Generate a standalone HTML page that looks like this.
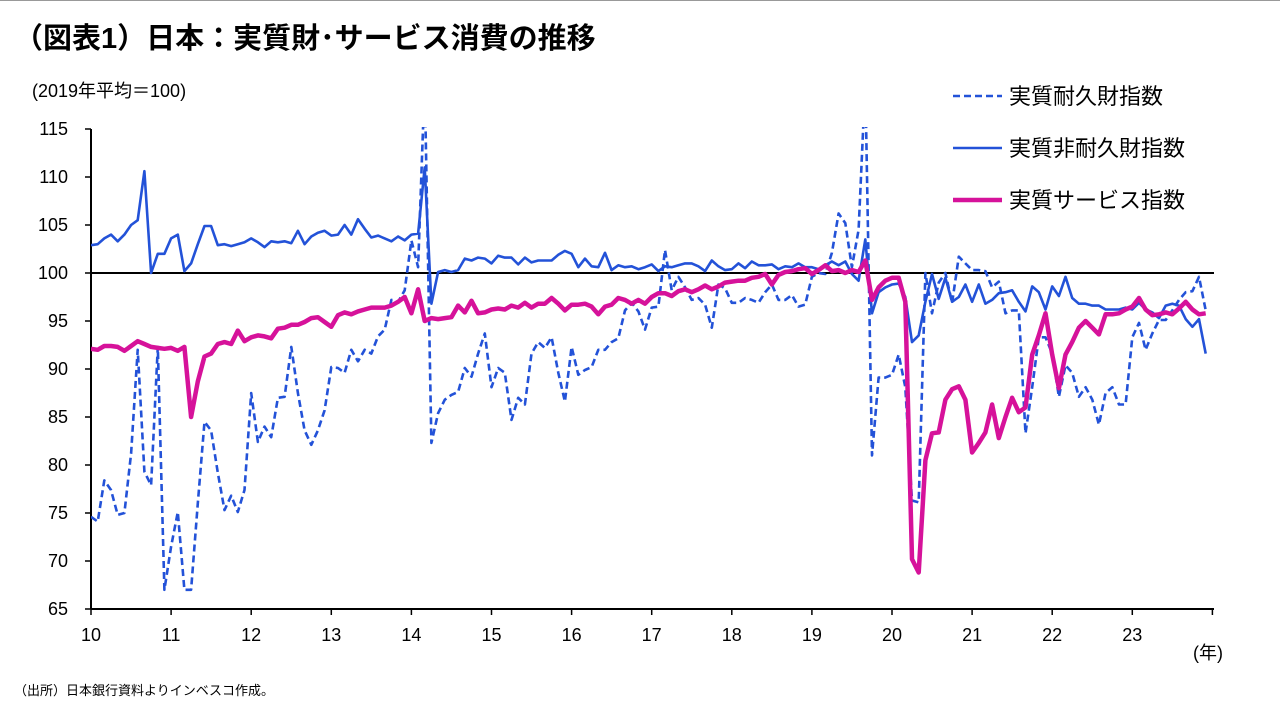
<!DOCTYPE html>
<html><head><meta charset="utf-8"><style>
body{margin:0;background:#fff;}
#wrap{position:relative;width:1280px;height:720px;overflow:hidden;font-family:"Liberation Sans","Noto Sans CJK JP",sans-serif;}
</style></head><body>
<div id="wrap">
<svg id="chart" width="1280" height="720" xmlns="http://www.w3.org/2000/svg">
<line x1="0" y1="0.5" x2="1280" y2="0.5" stroke="#999" stroke-width="1"/>
<text x="14" y="48" font-size="29" font-weight="bold" fill="#000" font-family="Liberation Sans, Noto Sans CJK JP, sans-serif">（図表1）日本：実質財･サービス消費の推移</text>
<text x="32" y="97" font-size="18" fill="#000" font-family="Liberation Sans, Noto Sans CJK JP, sans-serif">(2019年平均＝100)</text>
<text x="1193" y="659" font-size="18" fill="#000" font-family="Liberation Sans, Noto Sans CJK JP, sans-serif">(年)</text>
<text x="14" y="695" font-size="13" fill="#000" font-family="Liberation Sans, Noto Sans CJK JP, sans-serif">（出所）日本銀行資料よりインベスコ作成。</text>
<defs><clipPath id="plotclip"><rect x="91" y="127" width="1125" height="484"/></clipPath></defs>
<g id="axes"></g>
<g id="series" clip-path="url(#plotclip)"></g>
<g id="legend"></g>
</svg>
</div>
<script>
const yearLabels = ["10","11","12","13","14","15","16","17","18","19","20","21","22","23"];
const yTicks = [65,70,75,80,85,90,95,100,105,110,115];
const durable = [
74.6,74.1,78.4,77.4,74.8,75.0,81.2,92.0,79.3,77.9,92.3,67.0,
71.5,75.1,67.0,67.0,76.0,84.5,83.6,79.2,75.3,76.8,75.1,77.4,
87.5,82.4,84.0,82.9,87.0,87.1,92.3,87.5,83.6,82.1,83.6,85.7,
90.2,90.1,89.6,92.0,90.8,92.0,91.6,93.4,94.1,97.2,97.0,98.2,
103.4,100.6,120,82.3,85.4,86.8,87.3,87.6,90.1,89.2,91.6,93.7,
88.1,90.1,89.6,84.7,87.0,86.3,91.6,92.8,92.2,93.3,89.6,86.6,
92.3,89.4,89.9,90.2,92.0,92.0,92.8,93.2,96.1,96.9,96.0,94.1,
96.4,96.5,102.4,98.2,99.6,98.5,97.2,97.4,96.7,94.3,98.8,98.4,
96.9,96.9,97.4,97.2,96.9,98.0,98.8,97.2,97.2,97.7,96.5,96.7,
99.6,100.0,99.9,102.1,106.2,105.2,100.6,104.5,120,81.0,89.1,89.1,
89.4,91.5,88.1,76.3,76.1,100.0,95.8,99.0,100.0,96.9,101.7,101.0,
100.3,100.3,100.2,98.5,99.1,95.8,96.1,96.1,83.3,88.1,93.3,93.3,
91.6,87.1,90.4,89.6,87.1,88.1,86.8,84.2,87.5,88.1,86.3,86.3,
93.3,94.8,92.0,93.7,95.1,95.1,96.1,97.2,98.0,98.1,99.6,96.1];
const nondurable = [
102.9,103.0,103.6,104.0,103.3,104.0,105.0,105.5,110.6,100.0,102.0,102.0,
103.6,104.0,100.2,101.0,103.0,104.9,104.9,102.9,103.0,102.8,103.0,103.2,
103.6,103.2,102.7,103.3,103.2,103.3,103.1,104.4,103.0,103.8,104.2,104.4,
103.9,104.0,105.0,104.0,105.6,104.6,103.7,103.9,103.6,103.3,103.8,103.4,
104.0,104.1,111.0,96.8,100.1,100.3,100.1,100.3,101.5,101.3,101.6,101.5,
101.0,101.8,101.6,101.6,100.9,101.6,101.1,101.3,101.3,101.3,101.9,102.3,
102.0,100.6,101.5,100.7,100.6,102.1,100.3,100.8,100.6,100.7,100.4,100.6,
100.9,100.2,100.7,100.6,100.8,101.0,101.0,100.7,100.2,101.3,100.7,100.3,
100.4,101.0,100.5,101.2,100.8,100.8,100.9,100.4,100.7,100.6,101.0,100.6,
100.6,100.4,100.8,101.2,100.8,101.2,99.9,99.2,103.5,95.8,98.0,98.5,
98.8,98.9,97.5,92.8,93.5,97.0,99.9,97.3,99.5,97.0,97.5,98.8,
97.0,98.8,96.8,97.2,97.9,98.0,98.2,97.0,96.0,98.6,98.0,96.2,
98.6,97.6,99.6,97.4,96.8,96.8,96.6,96.6,96.2,96.2,96.2,96.4,
96.2,96.9,96.2,95.9,95.3,96.6,96.8,96.6,95.2,94.4,95.2,91.6];
const services = [
92.1,92.0,92.4,92.4,92.3,91.9,92.4,92.9,92.6,92.3,92.2,92.1,
92.2,91.9,92.3,85.0,88.7,91.3,91.6,92.6,92.8,92.6,94.0,92.9,
93.3,93.5,93.4,93.2,94.2,94.3,94.6,94.6,94.9,95.3,95.4,94.9,
94.4,95.6,95.9,95.7,96.0,96.2,96.4,96.4,96.4,96.6,97.0,97.5,
95.8,98.3,95.0,95.3,95.2,95.3,95.4,96.6,95.9,97.1,95.8,95.9,
96.2,96.3,96.2,96.6,96.4,96.9,96.4,96.8,96.8,97.4,96.8,96.1,
96.7,96.7,96.8,96.5,95.7,96.5,96.7,97.4,97.2,96.8,97.2,96.8,
97.5,97.9,97.9,97.6,98.1,98.3,98.0,98.3,98.7,98.3,98.6,99.0,
99.1,99.2,99.2,99.5,99.6,99.9,98.8,99.8,100.1,100.2,100.4,100.5,
99.9,100.3,100.8,100.2,100.3,100.0,100.3,100.1,101.3,97.2,98.5,99.2,
99.5,99.5,97.0,70.2,68.8,80.5,83.3,83.4,86.8,87.9,88.2,86.8,
81.3,82.3,83.4,86.3,82.8,85.0,87.0,85.5,86.0,91.5,93.5,95.8,
91.5,88.0,91.5,92.8,94.3,95.0,94.3,93.6,95.7,95.7,95.8,96.2,
96.5,97.4,96.2,95.6,95.7,95.9,95.7,96.3,97.0,96.2,95.7,95.8];
const seriesNames = ["実質耐久財指数","実質非耐久財指数","実質サービス指数"];

const NS="http://www.w3.org/2000/svg";
const X0=91, YEARW=80.1, Y0=129, Y1=609, VMIN=65, VMAX=115;
function xMonth(i){return X0 + i*YEARW/12;}
function xYear(k){return X0 + k*YEARW;}
function yVal(v){return Y1 - (v-VMIN)/(VMAX-VMIN)*(Y1-Y0);}
function mk(tag,parent){const e=document.createElementNS(NS,tag);parent.appendChild(e);return e;}

const axes=document.getElementById('axes');
yTicks.forEach(function(t){
  const tx=mk('text',axes);
  
  
  tx.setAttribute('x',68);tx.setAttribute('y',yVal(t)+6);tx.setAttribute('text-anchor','end');
  tx.setAttribute('font-size','18');tx.setAttribute('font-family','Liberation Sans, sans-serif');
  tx.textContent=t;
  const tk=mk('line',axes);
  
  
  tk.setAttribute('x1',85);tk.setAttribute('x2',91);tk.setAttribute('y1',yVal(t));tk.setAttribute('y2',yVal(t));
  tk.setAttribute('stroke','#000');tk.setAttribute('stroke-width','1.5');
});
yearLabels.forEach(function(l,k){
  const tx=mk('text',axes);
  
  
  tx.setAttribute('x',xYear(k));tx.setAttribute('y',641);tx.setAttribute('text-anchor','middle');
  tx.setAttribute('font-size','18');tx.setAttribute('font-family','Liberation Sans, sans-serif');
  tx.textContent=l;
});
for(let k=0;k<=yearLabels.length;k++){
  const tk=mk('line',axes);
  
  
  tk.setAttribute('x1',xYear(k));tk.setAttribute('x2',xYear(k));tk.setAttribute('y1',609);tk.setAttribute('y2',615);
  tk.setAttribute('stroke','#000');tk.setAttribute('stroke-width','1.5');
}
const ya=mk('line',axes);


ya.setAttribute('x1',91);ya.setAttribute('x2',91);ya.setAttribute('y1',129);ya.setAttribute('y2',609);ya.setAttribute('stroke','#000');ya.setAttribute('stroke-width','2');
const xa=mk('line',axes);


xa.setAttribute('x1',91);xa.setAttribute('x2',1214);xa.setAttribute('y1',609);xa.setAttribute('y2',609);xa.setAttribute('stroke','#000');xa.setAttribute('stroke-width','2');
const ref=mk('line',axes);


ref.setAttribute('x1',91);ref.setAttribute('x2',1214);ref.setAttribute('y1',yVal(100));ref.setAttribute('y2',yVal(100));ref.setAttribute('stroke','#000');ref.setAttribute('stroke-width','2');

const sg=document.getElementById('series');
function drawLine(arr,name,color,width,dash){
  const p=mk('polyline',sg);
  
  
  p.setAttribute('points',arr.map(function(v,i){return xMonth(i).toFixed(1)+','+yVal(v).toFixed(1);}).join(' '));
  p.setAttribute('fill','none');p.setAttribute('stroke',color);p.setAttribute('stroke-width',width);
  p.setAttribute('stroke-linejoin','round');
  if(dash)p.setAttribute('stroke-dasharray',dash);
}
drawLine(durable,'durable-goods-line','#2352d8',2.6,'7,4');
drawLine(nondurable,'nondurable-goods-line','#2352d8',2.6,null);
drawLine(services,'services-line','#d6129a',4.5,null);

const lg=document.getElementById('legend');
const legendStyles=[["#2352d8",2.6,"7,4"],["#2352d8",2.6,null],["#d6129a",4.5,null]];
seriesNames.forEach(function(n,k){
  const y=96+k*52;
  const ln=mk('line',lg);
  
  
  ln.setAttribute('x1',953);ln.setAttribute('x2',1002);ln.setAttribute('y1',y);ln.setAttribute('y2',y);
  ln.setAttribute('stroke',legendStyles[k][0]);ln.setAttribute('stroke-width',legendStyles[k][1]);
  if(legendStyles[k][2])ln.setAttribute('stroke-dasharray',legendStyles[k][2]);
  const tx=mk('text',lg);
  
  
  tx.setAttribute('x',1009);tx.setAttribute('y',y+8);tx.setAttribute('font-size','22');
  tx.setAttribute('font-family','Liberation Sans, Noto Sans CJK JP, sans-serif');
  tx.textContent=n;
});
</script>
</body></html>
